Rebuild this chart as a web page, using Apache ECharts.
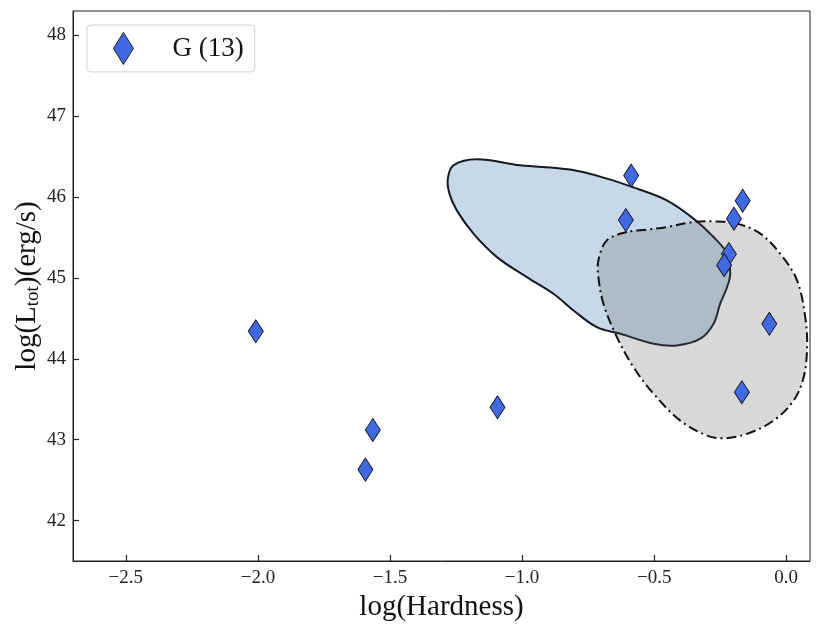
<!DOCTYPE html>
<html lang="en">
<head>
	<meta charset="UTF-8">
	<title>hardness_luminosity</title>
	<script src="https://cdn.jsdelivr.net/npm/echarts@6/dist/echarts.min.js"></script>
</head>
<body style="margin:0;background:#fff;">
	<div id="chart" style="width:822px;height:632px;"></div>
<script type="text/javascript">
	// G 源 (log hardness, log L_tot)
	let hardness = [-2.008, -1.565, -1.593, -1.093, -0.587, -0.607, -0.165, -0.198, -0.217, -0.235, -0.064, -0.168];
	let lumTot = [44.34, 43.12, 42.63, 43.40, 46.265, 45.715, 45.955, 45.733, 45.295, 45.158, 44.433, 43.587];

	// 蓝色等值线 (实线)
	let blueX = [-1.281, -1.260, -1.171, -1.007, -0.818, -0.679, -0.565, -0.452, -0.351, -0.275, -0.224, -0.212, -0.224, -0.250,
		-0.275, -0.325, -0.414, -0.502, -0.628, -0.717, -0.805, -0.881, -0.982, -1.095, -1.184, -1.247, -1.275];
	let blueY = [46.228, 46.392, 46.467, 46.392, 46.339, 46.228, 46.104, 45.959, 45.733, 45.505, 45.300, 45.052, 44.886, 44.681,
		44.433, 44.248, 44.165, 44.186, 44.309, 44.391, 44.598, 44.804, 45.010, 45.257, 45.547, 45.835, 46.042];

	// 灰色等值线 (点划线)
	let grayX = [-0.603, -0.679, -0.711, -0.711, -0.692, -0.641, -0.578, -0.502, -0.401, -0.300, -0.237, -0.149, -0.048,
		0.028, 0.066, 0.079, 0.072, 0.041, -0.023, -0.098, -0.186, -0.275, -0.351, -0.452, -0.527];
	let grayY = [45.567, 45.464, 45.217, 45.010, 44.681, 44.267, 43.896, 43.567, 43.236, 43.051, 43.017, 43.072, 43.236,
		43.484, 43.772, 44.144, 44.515, 44.969, 45.300, 45.547, 45.671, 45.699, 45.691, 45.629, 45.597];

	let xTicks = [-2.5, -2.0, -1.5, -1.0, -0.5, 0.0];
	let yTicks = [42, 43, 44, 45, 46, 47, 48];
	let legendName = 'G (13)';

	let font = 'Liberation Serif';
	let myChart = echarts.init(document.getElementById('chart'));

	function zip(a, b) {
		return a.map(function (v, i) { return [v, b[i]]; });
	}

	// 用坐标系画闭合区域
	function contourSeries(xs, ys, fill, stroke, dash, z) {
		return {
			type: 'custom',
			silent: true,
			z: z,
			data: zip(xs, ys),
			renderItem: function (params, api) {
				if (params.dataIndex !== 0) return;
				let pts = xs.map(function (x, i) { return api.coord([x, ys[i]]); });
				return {
					type: 'polygon',
					shape: { points: pts, smooth: 0.35 },
					style: { fill: fill, stroke: stroke, lineWidth: 2, lineDash: dash }
				};
			}
		};
	}

	function fmt(v) {
		return (v < 0 ? '\u2212' : '') + Math.abs(v).toFixed(1);
	}

	let option = {
		animation: false,
		grid: {
			left: 73, right: 12, top: 11, bottom: 71,
			outerBoundsMode: 'none',
			show: true, borderColor: '#222', borderWidth: 1
		},
		legend: {
			left: 87, top: 25,
			data: [{ name: legendName, icon: 'diamond', itemStyle: { borderWidth: 0.9 } }],
			itemWidth: 20, itemHeight: 32,
			padding: [7, 11, 7, 26],
			itemGap: 0,
			borderColor: '#d4d4d4', borderWidth: 1, borderRadius: 4,
			textStyle: { fontFamily: font, fontSize: 27, color: '#111', padding: [0, 0, 0, 34] }
		},
		xAxis: {
			type: 'value',
			min: -2.7, max: 0.09,
			name: 'log(Hardness)',
			nameLocation: 'middle',
			nameGap: 27,
			nameTextStyle: { fontFamily: font, fontSize: 29, color: '#111' },
			axisLine: { show: true, onZero: false, lineStyle: { color: '#222' } },
			axisTick: { show: true, inside: true, length: 6, customValues: xTicks, lineStyle: { color: '#222', width: 1.2 } },
			axisLabel: { customValues: xTicks, formatter: fmt, margin: 8, fontFamily: font, fontSize: 19, color: '#222' },
			splitLine: { show: false }
		},
		yAxis: {
			type: 'value',
			min: 41.5, max: 48.3,
			name: '{a|log(L}{b|tot}{a|)(erg/s)}',
			nameLocation: 'middle',
			nameRotate: 90,
			nameGap: 30,
			nameMoveOverlap: false,
			nameTextStyle: {
				rich: {
					a: { fontFamily: font, fontSize: 29, color: '#111' },
					b: { fontFamily: font, fontSize: 19, color: '#111', verticalAlign: 'bottom', padding: [13, 0, 0, 0] }
				}
			},
			axisLine: { show: true, onZero: false, lineStyle: { color: '#222' } },
			axisTick: { show: true, inside: true, length: 6, customValues: yTicks, lineStyle: { color: '#222', width: 1.2 } },
			axisLabel: { customValues: yTicks, margin: 7, fontFamily: font, fontSize: 19, color: '#222' },
			splitLine: { show: false }
		},
		series: [
			contourSeries(blueX, blueY, 'rgba(70,130,180,0.3)', '#151a22', null, 1),
			contourSeries(grayX, grayY, 'rgba(100,100,100,0.25)', '#111', [10, 4, 2, 4], 2),
			{
				name: legendName,
				type: 'scatter',
				z: 5,
				symbol: 'diamond',
				symbolSize: [15, 23],
				itemStyle: { color: '#4169e1', borderColor: '#111', borderWidth: 0.9, opacity: 1 },
				data: zip(hardness, lumTot)
			}
		]
	};
	myChart.setOption(option);
</script>
</body>
</html>
